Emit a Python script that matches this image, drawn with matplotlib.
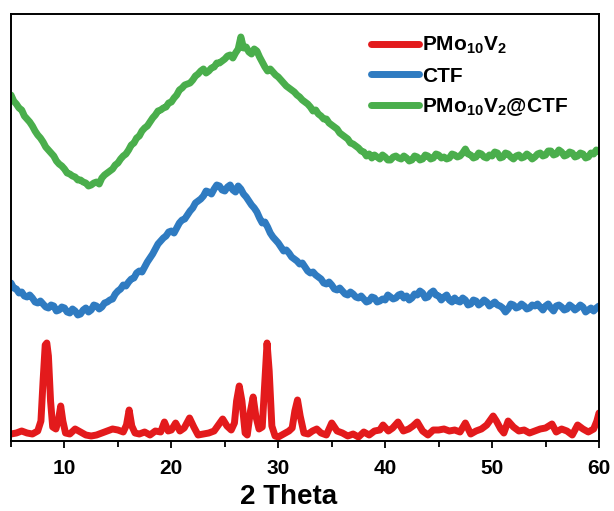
import matplotlib
matplotlib.use("Agg")
import matplotlib.pyplot as plt
import numpy as np
from matplotlib.ticker import MultipleLocator

plt.rcParams['font.family'] = ['Liberation Sans', 'DejaVu Sans']
plt.rcParams['mathtext.fontset'] = 'custom'
plt.rcParams['mathtext.rm'] = 'Liberation Sans:bold'
plt.rcParams['mathtext.bf'] = 'Liberation Sans:bold'
plt.rcParams['mathtext.default'] = 'rm'

# ---- data (arbitrary intensity units) ----
red_x = [5.0, 5.5, 6.0, 6.5, 7.0, 7.5, 7.8, 8.0, 8.2, 8.35, 8.5, 8.7, 8.9, 9.2, 9.45, 9.65, 9.85,
         10.1, 10.5, 11.0, 11.5, 12.0, 12.5, 13.0, 13.5, 14.0, 14.5, 15.0, 15.5, 15.8, 16.05, 16.3,
         16.6, 17.0, 17.5, 18.0, 18.5, 19.0, 19.35, 19.7, 20.0, 20.4, 20.8, 21.2, 21.7, 22.1, 22.5,
         23.0, 23.5, 24.0, 24.4, 24.8, 25.2, 25.6, 25.9, 26.1, 26.35, 26.6, 26.9, 27.1, 27.4, 27.65,
         27.9, 28.2, 28.5, 28.75, 28.95, 29.15, 29.4, 29.7, 30.0, 30.5, 31.0, 31.3, 31.55, 31.8,
         32.05, 32.4, 32.8, 33.2, 33.6, 34.0, 34.5, 35.0, 35.5, 36.0, 36.5, 37.0, 37.5, 38.0, 38.5,
         39.0, 39.5, 39.8, 40.3, 40.7, 41.2, 41.7, 42.2, 42.6, 43.0, 43.5, 44.0, 44.5, 45.0, 45.5,
         46.0, 46.5, 47.0, 47.5, 48.0, 48.5, 49.0, 49.5, 50.1, 50.4, 50.8, 51.1, 51.5, 52.0, 52.5,
         53.0, 53.5, 54.0, 54.5, 55.0, 55.6, 56.0, 56.5, 57.0, 57.5, 58.0, 58.5, 59.0, 59.5, 59.8, 60.0]
red_y = [7, 8, 10, 8, 7, 10, 20, 60, 96, 98, 85, 40, 14, 12, 22, 35, 20,
         8, 7, 12, 9, 6, 5, 6, 8, 10, 12, 11, 9, 16, 31, 15,
         8, 7, 9, 6, 10, 9, 19, 10, 11, 18, 10, 13, 23, 14, 6,
         7, 8, 10, 16, 22, 15, 11, 18, 40, 55, 40, 8, 6, 30, 44,
         25, 12, 14, 60, 98, 70, 15, 5, 4, 7, 10, 13, 30, 41,
         25, 8, 7, 10, 12, 8, 6, 18, 10, 8, 5, 7, 4, 9, 6,
         10, 11, 16, 10, 13, 19, 10, 12, 15, 19, 10, 6, 11, 11, 12,
         10, 11, 9, 18, 7, 10, 12, 16, 25, 20, 12, 8, 20, 14, 10,
         11, 8, 10, 12, 13, 17, 9, 12, 10, 6, 16, 12, 9, 12, 20, 28]

# CTF: sampled every 0.25 deg from 5 to 60
blue_y = [158, 153, 152, 148, 149, 145, 144, 146, 143, 139,
          138, 140, 137, 134, 133, 136, 135, 130, 131, 134,
          133, 129, 128, 132, 130, 126, 127, 131, 133, 129,
          131, 136, 135, 132, 134, 138, 139, 141, 142, 147,
          150, 152, 156, 155, 159, 162, 163, 168, 170, 169,
          174, 179, 183, 187, 192, 197, 200, 203, 205, 209,
          210, 208, 213, 218, 221, 222, 226, 230, 233, 238,
          240, 242, 245, 250, 249, 247, 252, 256, 255, 251,
          250, 254, 256, 251, 249, 255, 252, 247, 244, 240,
          236, 233, 229, 223, 218, 219, 214, 208, 204, 201,
          198, 194, 190, 191, 188, 184, 182, 180, 177, 178,
          174, 170, 168, 169, 166, 164, 162, 158, 157, 159,
          156, 152, 151, 153, 150, 147, 146, 149, 147, 144,
          143, 145, 142, 139, 140, 144, 143, 139, 140, 142,
          141, 146, 144, 142, 143, 146, 147, 143, 145, 141,
          143, 147, 146, 150, 148, 143, 144, 148, 150, 146,
          145, 141, 144, 146, 141, 139, 143, 140, 139, 143,
          141, 136, 137, 141, 140, 136, 138, 141, 139, 135,
          137, 139, 136, 135, 133, 129, 132, 137, 136, 133,
          134, 137, 135, 132, 133, 136, 135, 137, 134, 131,
          135, 137, 133, 130, 135, 136, 134, 131, 132, 136,
          134, 131, 133, 136, 134, 129, 131, 133, 130, 133,
          135]

# PMo10V2@CTF: sampled every 0.25 deg from 5 to 60
green_y = [346, 340, 337, 333, 331, 325, 322, 319, 315, 310,
           306, 303, 299, 294, 291, 288, 285, 280, 277, 275,
           272, 268, 267, 265, 264, 261, 261, 259, 258, 255,
           256, 258, 259, 257, 263, 266, 268, 270, 272, 276,
           278, 282, 285, 287, 291, 296, 298, 303, 305, 310,
           313, 315, 319, 323, 326, 330, 331, 333, 334, 338,
           339, 343, 346, 351, 353, 356, 357, 358, 361, 365,
           367, 370, 372, 368, 370, 373, 374, 378, 378, 380,
           382, 385, 386, 383, 388, 392, 404, 393, 394, 389,
           387, 392, 390, 384, 379, 374, 370, 372, 369, 366,
           364, 361, 358, 355, 353, 351, 349, 346, 344, 341,
           339, 337, 334, 330, 331, 327, 325, 322, 322, 318,
           316, 314, 312, 308, 306, 304, 302, 298, 297, 295,
           293, 290, 289, 285, 287, 283, 286, 284, 282, 286,
           284, 281, 281, 284, 285, 283, 282, 285, 283, 280,
           281, 285, 284, 281, 282, 286, 285, 282, 283, 287,
           286, 283, 284, 282, 283, 287, 286, 284, 285, 288,
           292, 287, 286, 283, 284, 288, 287, 284, 283, 286,
           285, 289, 288, 283, 284, 288, 287, 284, 282, 285,
           286, 283, 284, 287, 285, 282, 284, 287, 288, 285,
           286, 290, 290, 286, 287, 291, 289, 285, 286, 289,
           288, 284, 285, 288, 287, 283, 284, 288, 287, 291,
           289]

blue_x = np.linspace(5, 60, len(blue_y))
green_x = np.linspace(5, 60, len(green_y))

labels = [r'$\mathrm{PMo_{10}V_{2}}$', 'CTF', r'$\mathrm{PMo_{10}V_{2}}$@CTF']
colors = ['#E31A1C', '#2F7BC1', '#4AAE4C']
xticks = [10, 20, 30, 40, 50, 60]

fig = plt.figure(figsize=(6.14, 5.11), dpi=100)
ax = fig.add_axes([11 / 614, 1 - 441 / 511, 588 / 614, 427 / 511])

for xs, ys, lab, c in zip([red_x, blue_x, green_x], [red_y, blue_y, green_y], labels, colors):
    ax.plot(xs, ys, color=c, lw=5, label=lab, solid_joinstyle='round', solid_capstyle='round')

ax.set_xlim(5, 60)
ax.set_ylim(0, 427)
ax.set_xticks(xticks)
ax.set_xticklabels([str(t) for t in xticks], fontsize=15, fontweight='bold')
ax.xaxis.set_minor_locator(MultipleLocator(5))
ax.tick_params(axis='x', which='major', direction='out', length=5, width=1.3, pad=8)
ax.tick_params(axis='x', which='minor', direction='out', length=4, width=1.3)
ax.set_yticks([])
for s in ax.spines.values():
    s.set_linewidth(1.4)
ax.set_xlabel('2 Theta', fontsize=20, fontweight='bold')
ax.xaxis.set_label_coords((289 - 11) / 588, -(497 - 441) / 427)
ax.xaxis.label.set_va('center')

leg = ax.legend(loc='upper right', bbox_to_anchor=(1.0 - 10 / 588, 1.0), frameon=False,
                prop={'family': 'Liberation Sans', 'weight': 'bold', 'size': 15},
                handlelength=2.3, handletextpad=0.15, labelspacing=0.5, borderaxespad=0.6)
for line in leg.get_lines():
    line.set_linewidth(5)

fig.savefig('out.png', dpi=100)
